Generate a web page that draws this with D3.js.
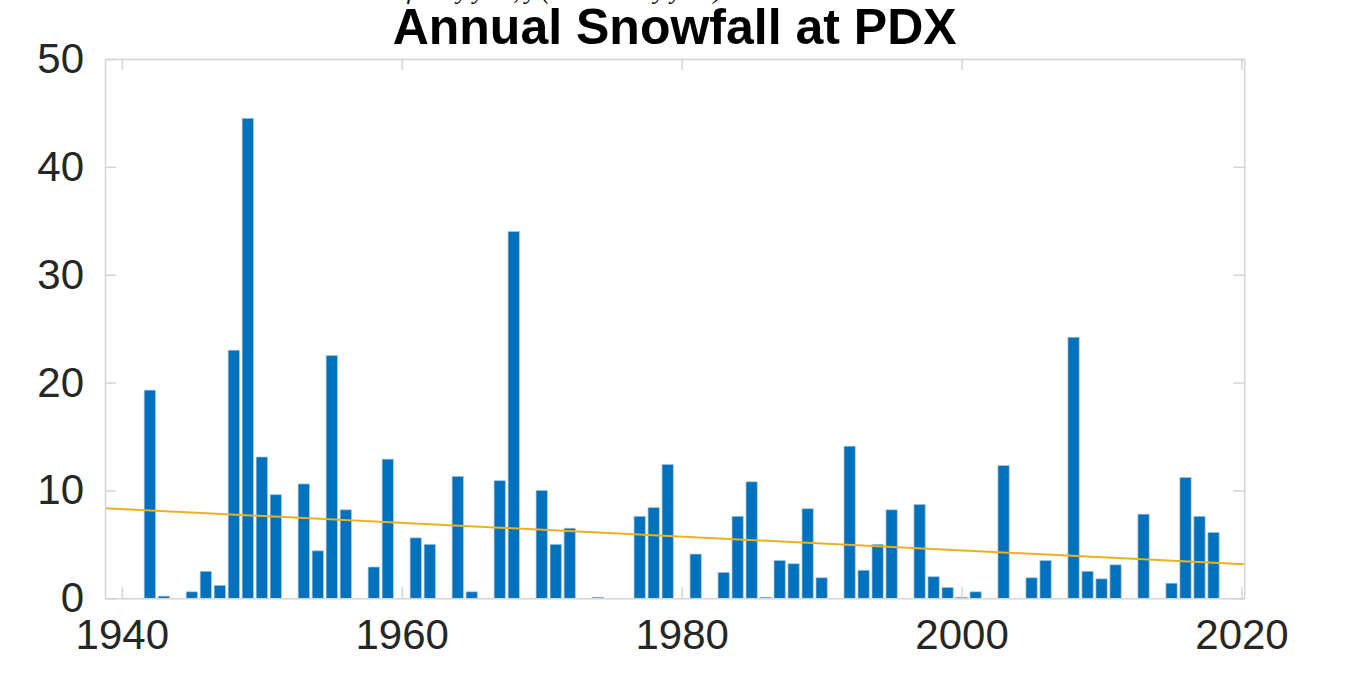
<!DOCTYPE html>
<html>
<head>
<meta charset="utf-8">
<script src="https://cdn.jsdelivr.net/npm/d3@7"></script>
<style>
  html, body { margin: 0; padding: 0; background: #fff; overflow: hidden; }
  svg { display: block; }
</style>
</head>
<body>
<svg id="chart" width="1370" height="686"></svg>
<script>
// ---- data ----
const years = [1942,1943,1945,1946,1947,1948,1949,1950,1951,1953,1954,1955,1956,1958,1959,
  1961,1962,1964,1965,1967,1968,1970,1971,1972,1974,1977,1978,1979,1981,1983,1984,1985,1986,
  1987,1988,1989,1990,1992,1993,1994,1995,1997,1998,1999,2000,2001,2003,2005,2006,2008,2009,
  2010,2011,2013,2015,2016,2017,2018];
const snowfall = [19.3,0.2,0.6,2.5,1.2,23.0,44.5,13.1,9.6,10.6,4.4,22.5,8.2,2.9,12.9,
  5.6,5.0,11.3,0.6,10.9,34.0,10.0,5.0,6.5,0.1,7.6,8.4,12.4,4.1,2.4,7.6,10.8,0.1,
  3.5,3.2,8.3,1.9,14.1,2.6,5.0,8.2,8.7,2.0,1.0,0.1,0.6,12.3,1.9,3.5,24.2,2.5,
  1.8,3.1,7.8,1.4,11.2,7.6,6.1];
const trendYears = [1938.8, 2020.2];
const trendValues = [8.35, 3.15];
const xTicks = [1940, 1960, 1980, 2000, 2020];
const yTicks = [0, 10, 20, 30, 40, 50];
const titleText = "Annual Snowfall at PDX";
const clippedCaption = "Total snowfall by year, y (in inches by year)";

// ---- layout ----
const svg = d3.select("#chart");
const pLeft = 105, pRight = 1244.3, pTop = 59, pBottom = 598.3;
const x = d3.scaleLinear().domain([1938.8, 2020.2]).range([pLeft, pRight]);
const y = d3.scaleLinear().domain([0, 50]).range([pBottom, pTop]);
const barW = x(1940.8) - x(1940);

const axisColor = "#d4d4d4";
const textColor = "#262626";

// clipped caption at top of the page (mostly off-screen in the reference)
svg.append("text")
  .attr("x", 512).attr("y", -1)
  .attr("text-anchor", "middle")
  .attr("font-family", "Liberation Serif, DejaVu Serif, serif")
  .attr("font-style", "italic")
  .attr("font-size", 24)
  .attr("fill", "#000")
  .text(clippedCaption);

// title
svg.append("text")
  .attr("x", (pLeft + pRight) / 2).attr("y", 44)
  .attr("text-anchor", "middle")
  .attr("font-family", "Liberation Sans, Arial, Helvetica, sans-serif")
  .attr("font-weight", "bold")
  .attr("font-size", 50)
  .attr("fill", "#000")
  .text(titleText);

// bars
svg.append("g").selectAll("rect")
  .data(years.map((yr, i) => ({yr, v: snowfall[i]})))
  .join("rect")
  .attr("x", d => x(d.yr) - barW / 2)
  .attr("y", d => y(d.v))
  .attr("width", barW)
  .attr("height", d => y(0) - y(d.v))
  .attr("fill", "#0072BD")
  .attr("stroke", "#a9bfd6")
  .attr("stroke-width", 0.7);

// trend line
svg.append("path")
  .datum(trendYears.map((t, i) => [t, trendValues[i]]))
  .attr("d", d3.line().x(d => x(d[0])).y(d => y(d[1])))
  .attr("fill", "none")
  .attr("stroke", "#EDB120")
  .attr("stroke-width", 2);

// axes (box with inward ticks)
const tickLen = 11;
const bottomAxis = d3.axisBottom(x).tickValues(xTicks).tickSizeInner(-tickLen).tickSizeOuter(0).tickFormat(d3.format("d")).tickPadding(21);
const topAxis = d3.axisTop(x).tickValues(xTicks).tickSizeInner(-tickLen).tickSizeOuter(0).tickFormat("");
const leftAxis = d3.axisLeft(y).tickValues(yTicks).tickSizeInner(-tickLen).tickSizeOuter(0).tickPadding(21);
const rightAxis = d3.axisRight(y).tickValues(yTicks).tickSizeInner(-tickLen).tickSizeOuter(0).tickFormat("");

function style(g) {
  g.select(".domain").attr("stroke", axisColor).attr("stroke-width", 1.5);
  g.selectAll(".tick line").attr("stroke", axisColor).attr("stroke-width", 1.5);
  g.selectAll(".tick text")
    .attr("fill", textColor)
    .attr("font-family", "Liberation Sans, Arial, Helvetica, sans-serif")
    .attr("font-size", 42);
}

svg.append("g").attr("transform", `translate(0,${pBottom})`).call(bottomAxis).call(style);
svg.append("g").attr("transform", `translate(0,${pTop})`).call(topAxis).call(style);
svg.append("g").attr("transform", `translate(${pLeft},0)`).call(leftAxis).call(style);
svg.append("g").attr("transform", `translate(${pRight},0)`).call(rightAxis).call(style);
</script>
</body>
</html>
